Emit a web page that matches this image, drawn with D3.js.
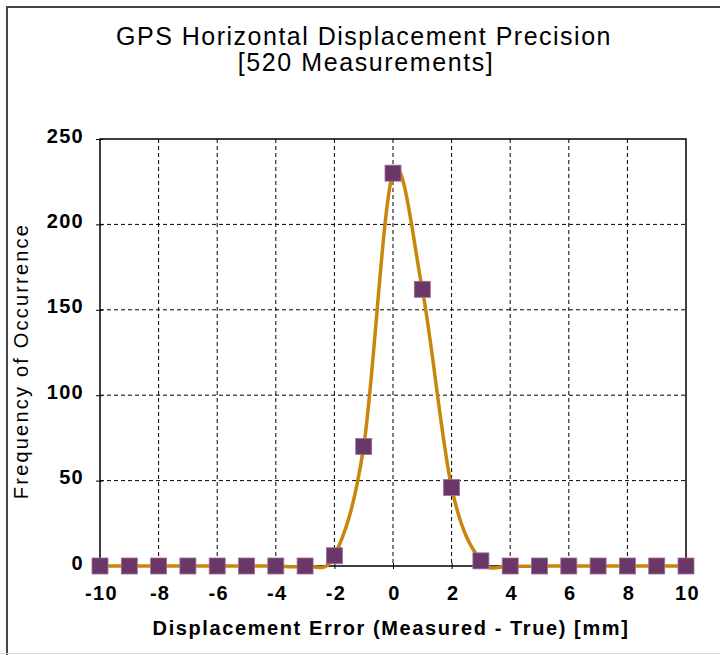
<!DOCTYPE html>
<html>
<head>
<meta charset="utf-8">
<script src="https://cdn.jsdelivr.net/npm/d3@7"></script>
<style>
  body { margin: 0; background: #fff; }
  text { font-family: "Liberation Sans", Arial, sans-serif; }
</style>
</head>
<body>
<svg></svg>
<script>
const WIDTH = 720;
const HEIGHT = 655;
const MARGINS = { left: 100, top: 139, right: 34, bottom: 89 };
const graphWidth = WIDTH - MARGINS.left - MARGINS.right;
const graphHeight = HEIGHT - MARGINS.top - MARGINS.bottom;

const errors = [-10, -9, -8, -7, -6, -5, -4, -3, -2, -1, 0, 1, 2, 3, 4, 5, 6, 7, 8, 9, 10];
const counts = [0, 0, 0, 0, 0, 0, 0, 0, 6, 70, 230, 162, 46, 3, 0, 0, 0, 0, 0, 0, 0];
const xTicks = [-10, -8, -6, -4, -2, 0, 2, 4, 6, 8, 10];
const yTicks = [0, 50, 100, 150, 200, 250];

const data = errors.map((e, i) => ({ x: e, y: counts[i] }));

const svg = d3.select('svg').attr('width', WIDTH).attr('height', HEIGHT);

// outer frame (only top/left visible in the original)
svg.append('path')
  .attr('d', `M7,${HEIGHT} V7 H${WIDTH}`)
  .attr('fill', 'none')
  .attr('stroke', '#444')
  .attr('stroke-width', 2);
svg.append('line')
  .attr('x1', 0).attr('x2', WIDTH)
  .attr('y1', HEIGHT - 1.5).attr('y2', HEIGHT - 1.5)
  .attr('stroke', '#ddd');

const graph = svg.append('g')
  .attr('transform', `translate(${MARGINS.left}, ${MARGINS.top})`);

const x = d3.scaleLinear().domain([-10, 10]).range([0, graphWidth]);
const y = d3.scaleLinear().domain([0, 250]).range([graphHeight, 0]);

// dashed grid
graph.append('g')
  .selectAll('line')
  .data(xTicks.slice(1, -1))
  .enter()
  .append('line')
  .attr('x1', (d) => x(d)).attr('x2', (d) => x(d))
  .attr('y1', 0).attr('y2', graphHeight)
  .attr('stroke', '#000')
  .attr('stroke-dasharray', '4,3');
graph.append('g')
  .selectAll('line')
  .data(yTicks.slice(1, -1))
  .enter()
  .append('line')
  .attr('x1', 0).attr('x2', graphWidth)
  .attr('y1', (d) => y(d)).attr('y2', (d) => y(d))
  .attr('stroke', '#000')
  .attr('stroke-dasharray', '4,3');

// plot box
graph.append('rect')
  .attr('width', graphWidth)
  .attr('height', graphHeight)
  .attr('fill', 'none')
  .attr('stroke', '#000')
  .attr('stroke-width', 1.5);

const xAxis = d3.axisBottom(x).tickValues(xTicks).tickSize(7).tickFormat((d) => String(d));
const yAxis = d3.axisLeft(y).tickValues(yTicks).tickSize(7);

const xAxisGroup = graph.append('g')
  .attr('transform', `translate(0, ${graphHeight})`)
  .call(xAxis);
const yAxisGroup = graph.append('g').call(yAxis);

[xAxisGroup, yAxisGroup].forEach((g) => {
  g.select('.domain').remove();
  g.selectAll('text')
    .attr('font-size', 20)
    .attr('font-weight', 'bold')
    .attr('fill', '#000')
    .style('letter-spacing', '1.3px')
    .style('font-family', '"Liberation Sans", Arial, sans-serif');
});
xAxisGroup.selectAll('.tick line').attr('y1', -3).attr('y2', 3).attr('stroke', '#000');
yAxisGroup.selectAll('.tick line').attr('x1', -4).attr('x2', 3).attr('stroke', '#000');
xAxisGroup.selectAll('text').attr('dy', 0).attr('y', 34).attr('dx', 1);
yAxisGroup.selectAll('text').attr('x', -16).attr('dy', 3);

// smoothed line
const line = d3.line()
  .x((d) => x(d.x))
  .y((d) => y(d.y))
  .curve(d3.curveCatmullRom.alpha(0));

graph.append('path')
  .datum(data)
  .attr('d', line)
  .attr('fill', 'none')
  .attr('stroke', '#C8860A')
  .attr('stroke-width', 3.5);

// markers
const SIZE = 16;
graph.selectAll('rect.marker')
  .data(data)
  .enter()
  .append('rect')
  .attr('class', 'marker')
  .attr('x', (d) => x(d.x) - SIZE / 2)
  .attr('y', (d) => y(d.y) - SIZE / 2)
  .attr('width', SIZE)
  .attr('height', SIZE)
  .attr('fill', '#6B3668')
  .attr('stroke', '#9A6F98')
  .attr('stroke-width', 0.8);

// titles
svg.append('text')
  .attr('x', 364).attr('y', 45)
  .attr('text-anchor', 'middle')
  .attr('font-size', 25)
  .style('letter-spacing', '1.5px')
  .text('GPS Horizontal Displacement Precision');
svg.append('text')
  .attr('x', 366).attr('y', 71)
  .attr('text-anchor', 'middle')
  .attr('font-size', 25)
  .style('letter-spacing', '1.6px')
  .text('[520 Measurements]');

svg.append('text')
  .attr('x', 391).attr('y', 635)
  .attr('text-anchor', 'middle')
  .attr('font-size', 20)
  .attr('font-weight', 'bold')
  .style('letter-spacing', '1.6px')
  .text('Displacement Error (Measured - True) [mm]');

svg.append('text')
  .attr('transform', `translate(28, 361) rotate(-90)`)
  .attr('text-anchor', 'middle')
  .attr('font-size', 20)
  .style('letter-spacing', '2.2px')
  .text('Frequency of Occurrence');
</script>
</body>
</html>
